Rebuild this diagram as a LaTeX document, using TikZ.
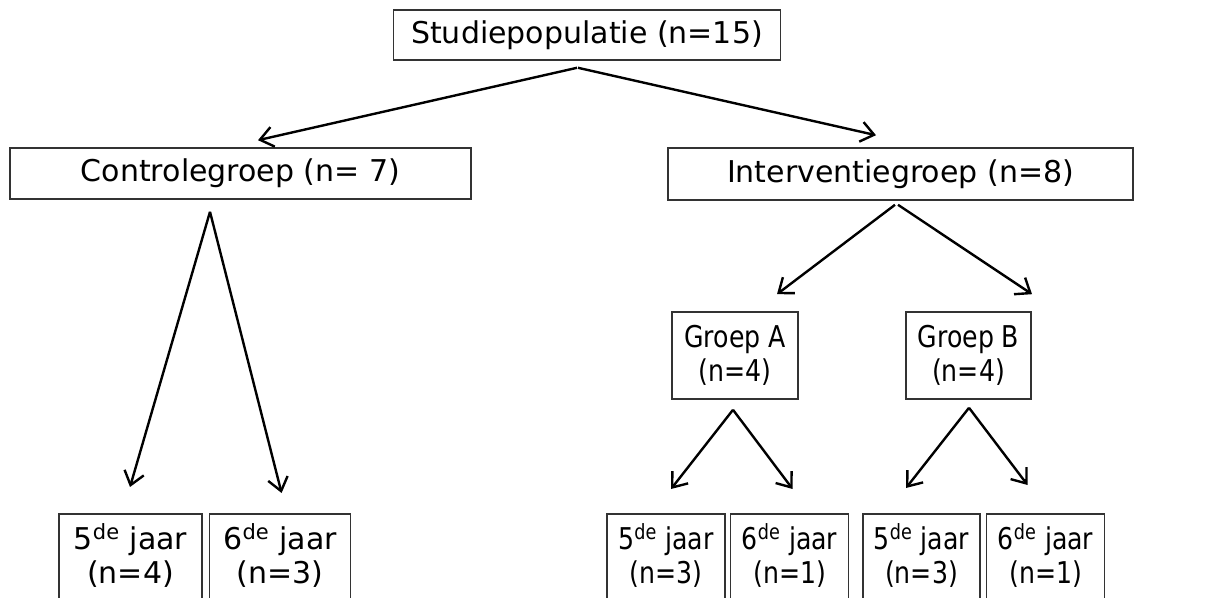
\documentclass[tikz,border=0pt]{standalone}
\usepackage{fontspec}
\setmainfont{DejaVu Sans}
\newfontfamily\smalfont[FakeStretch=0.84]{DejaVu Sans}
\usetikzlibrary{arrows.meta}
\usetikzlibrary{calc}
\usetikzlibrary{positioning}

\begin{document}
\begin{tikzpicture}[x=0.5pt,y=-0.5pt,semithick]
	\tikzstyle{box}=[draw=black!80, line width=0.8pt, rectangle, inner sep=0pt, align=center, font=\fontsize{15}{17}\selectfont]
	\tikzstyle{smal}=[font=\smalfont\fontsize{15}{17}\selectfont]
	\tikzstyle{jaar}=[box, anchor=north, inner ysep=0pt, text height=35pt, text depth=30pt]
	\tikzstyle{pijl}=[-{Straight Barb[length=6.5pt,width=10pt]}, line width=1.2pt]
	\useasboundingbox (0,0) rectangle (1210,598);

		\node[box, minimum width=193.5pt, minimum height=25pt] (studie) at (587,35) {Studiepopulatie (n=15)};
		\node[box, minimum width=230.5pt, minimum height=25.5pt] (ctrl) at (240.5,173.5) {Controlegroep (n= 7)};
		\node[box, minimum width=232.5pt, minimum height=26pt] (intv) at (900.5,174) {Interventiegroep (n=8)};
		\node[box, smal, minimum width=63pt, minimum height=43.5pt] (gA) at (735,355.5) {Groep A\\(n=4)};
		\node[box, smal, minimum width=62.5pt, minimum height=43.5pt] (gB) at (968.5,355.5) {Groep B\\(n=4)};

		% jaargroepen
		\node[jaar, minimum width=71.5pt] (c5) at (130.5,513) {5\textsuperscript{de} jaar\\(n=4)};
		\node[jaar, minimum width=70.5pt] (c6) [right=3pt of c5] {6\textsuperscript{de} jaar\\(n=3)};
		\node[jaar, smal, minimum width=59pt] (a5) at (666,513) {5\textsuperscript{de} jaar\\(n=3)};
		\node[jaar, smal, minimum width=59pt] (a6) [right=2pt of a5] {6\textsuperscript{de} jaar\\(n=1)};
		\node[jaar, smal, minimum width=58.5pt] (b5) at (921.5,513) {5\textsuperscript{de} jaar\\(n=3)};
		\node[jaar, smal, minimum width=59pt] (b6) [right=2.5pt of b5] {6\textsuperscript{de} jaar\\(n=1)};

		\draw[pijl] ([shift={(-10,7)}]studie.south) -- ([shift={(17.5,-7)}]ctrl.north);
		\draw[pijl] ([shift={(-9,7)}]studie.south) -- ([shift={(-24.5,-12)}]intv.north);

		\draw[pijl] ([shift={(-30.5,12)}]ctrl.south) -- ([shift={(-0.5,-26)}]c5.north);
		\draw[pijl] ([shift={(-30.5,12)}]ctrl.south) -- ([shift={(1.5,-20)}]c6.north);

		\draw[pijl] ([shift={(-5.5,4)}]intv.south) -- ([shift={(42,-17)}]gA.north);
		\draw[pijl] ([shift={(-2.5,4)}]intv.south) -- ([shift={(63.5,-17)}]gB.north);

		\draw[pijl] ([shift={(-2,10)}]gA.south) -- ([shift={(5,-24)}]a5.north);
		\draw[pijl] ([shift={(-2,10)}]gA.south) -- ([shift={(3,-24)}]a6.north);
		\draw[pijl] ([shift={(0.5,8)}]gB.south) -- ([shift={(-15.5,-25)}]b5.north);
		\draw[pijl] ([shift={(0.5,8)}]gB.south) -- ([shift={(-18,-28)}]b6.north);
\end{tikzpicture}
\end{document}
